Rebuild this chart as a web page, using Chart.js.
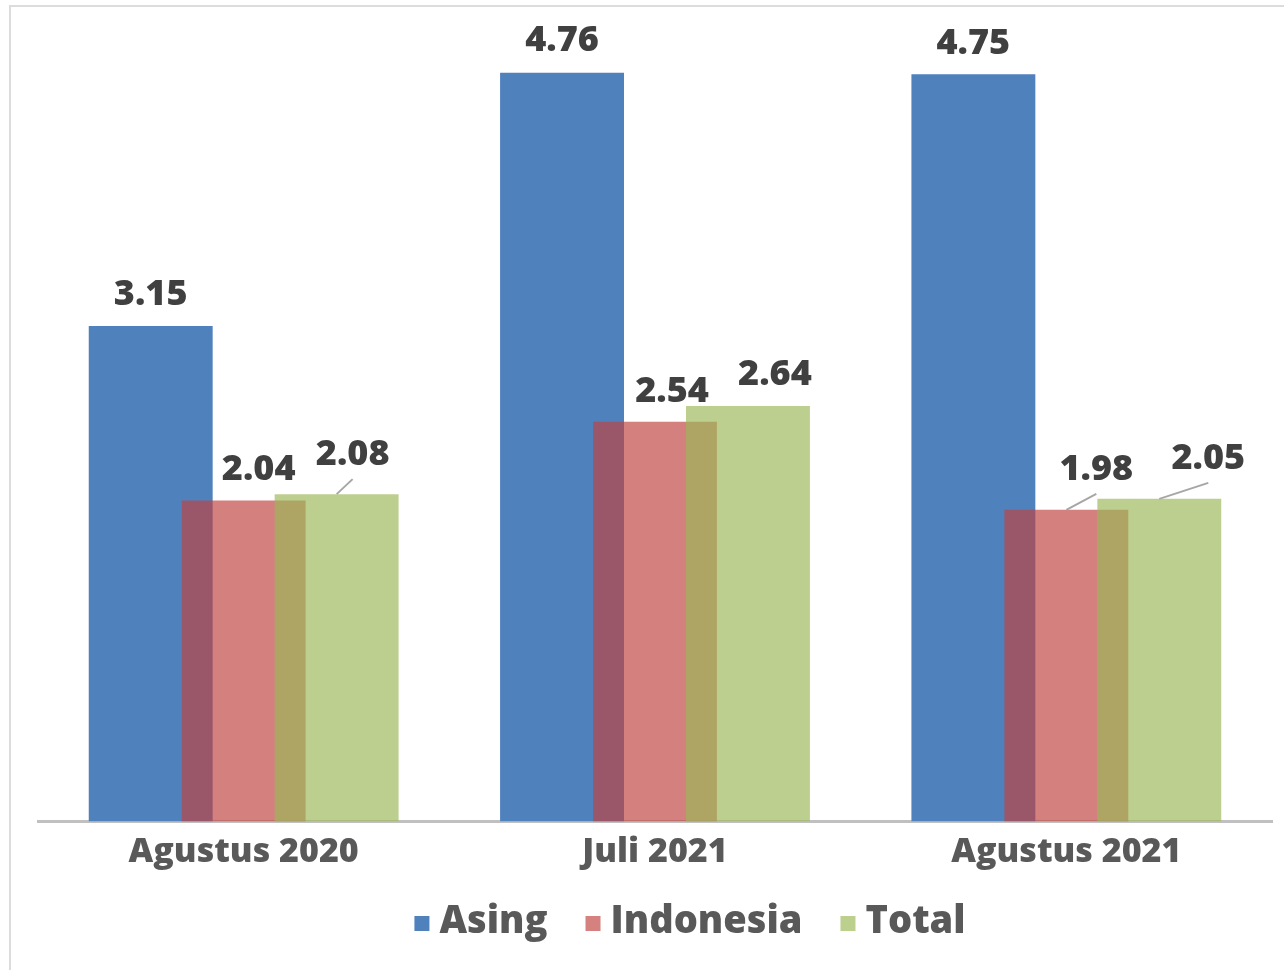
<!DOCTYPE html>
<html lang="id">
<head>
  <meta charset="UTF-8" />
  <title>Asing / Indonesia / Total</title>
  <script src="https://cdn.jsdelivr.net/npm/chart.js"></script>
  <style>
    html, body { margin: 0; padding: 0; background: #fff; overflow: hidden; }
    .frame {
      position: absolute; left: 9px; top: 5px; width: 1400px; height: 1100px;
      border-left: 2px solid #dcdcdc; border-top: 2px solid #dcdcdc;
    }
    #chart { position: absolute; left: 0; top: 0; }
  </style>
</head>
<body>
  <div class="frame"></div>
  <canvas id="chart" width="1284" height="970"></canvas>

  <script>
    // data
    const periods = ['Agustus 2020', 'Juli 2021', 'Agustus 2021'];
    const asing = [3.15, 4.76, 4.75];
    const indonesia = [2.04, 2.54, 1.98];
    const total = [2.08, 2.64, 2.05];

    const FONT = "'Open Sans', 'DejaVu Sans', sans-serif";

    // label nudges (px) per series / category, and which ones get a leader line
    const labelNudge = [
      [[0, -31], [0, -32], [0, -31]],
      [[15, -31], [17, -30], [30, -40]],
      [[16, -39], [27, -31], [49, -40]]
    ];
    const leader = [
      [false, false, false],
      [false, false, true],
      [true, false, true]
    ];

    // draw left series first so that the right ones lie on top (as in Excel overlap)
    const paintInOrder = {
      id: 'paintInOrder',
      beforeDatasetsDraw(chart) {
        chart.getSortedVisibleDatasetMetas().forEach(m => m.controller.draw());
        return false;
      }
    };

    const valueLabels = {
      id: 'valueLabels',
      afterDraw(chart) {
        const ctx = chart.ctx;
        ctx.save();
        chart.data.datasets.forEach((ds, i) => {
          const meta = chart.getDatasetMeta(i);
          meta.data.forEach((bar, j) => {
            const [dx, dy] = labelNudge[i][j];
            const lx = bar.x + dx, ly = bar.y + dy;
            if (leader[i][j]) {
              ctx.strokeStyle = '#a6a6a6';
              ctx.lineWidth = 2;
              ctx.beginPath();
              ctx.moveTo(bar.x, bar.y);
              ctx.lineTo(lx, ly + 24);
              ctx.stroke();
            }
            ctx.fillStyle = '#404040';
            ctx.font = `800 36px ${FONT}`;
            ctx.textAlign = 'center';
            ctx.textBaseline = 'middle';
            ctx.fillText(ds.data[j].toFixed(2), lx, ly);
          });
        });
        ctx.restore();
      }
    };

    const legendRow = {
      id: 'legendRow',
      afterDraw(chart) {
        const ctx = chart.ctx;
        const sets = chart.data.datasets;
        const box = 15, gapText = 10, gapItem = 38, cy = 922;
        ctx.save();
        ctx.font = `800 38px ${FONT}`;
        ctx.textBaseline = 'middle';
        ctx.textAlign = 'left';
        const widths = sets.map(s => ctx.measureText(s.label).width);
        const full = widths.reduce((a, w) => a + box + gapText + w, 0) + gapItem * (sets.length - 1);
        let x = 690 - full / 2;
        sets.forEach((s, i) => {
          ctx.fillStyle = s.legendColor;
          ctx.fillRect(x, cy - 6, box, box);
          ctx.fillStyle = '#595959';
          ctx.fillText(s.label, x + box + gapText, cy);
          x += box + gapText + widths[i] + gapItem;
        });
        ctx.restore();
      }
    };

    new Chart(document.getElementById('chart'), {
      type: 'bar',
      data: {
        labels: periods,
        datasets: [
          { label: 'Asing', data: asing, backgroundColor: '#4f81bd', legendColor: '#4f81bd' },
          { label: 'Indonesia', data: indonesia, backgroundColor: 'rgba(190, 68, 67, 0.68)', legendColor: '#d4817f' },
          { label: 'Total', data: total, backgroundColor: 'rgba(157, 184, 88, 0.68)', legendColor: '#bccf8d' }
        ]
      },
      options: {
        responsive: false,
        animation: false,
        events: [],
        categoryPercentage: 0.678,
        barPercentage: 1.333,
        layout: { padding: { left: 38, right: 12, top: 35, bottom: 86 } },
        plugins: {
          legend: { display: false },
          tooltip: { enabled: false }
        },
        scales: {
          x: {
            grid: { display: false, drawTicks: false },
            border: { display: true, color: '#c0c0c0', width: 3 },
            ticks: {
              padding: 11,
              color: '#595959',
              font: { family: FONT, size: 34, weight: 800 }
            }
          },
          y: {
            display: false,
            min: 0,
            max: 5
          }
        }
      },
      plugins: [paintInOrder, valueLabels, legendRow]
    });
  </script>
</body>
</html>
